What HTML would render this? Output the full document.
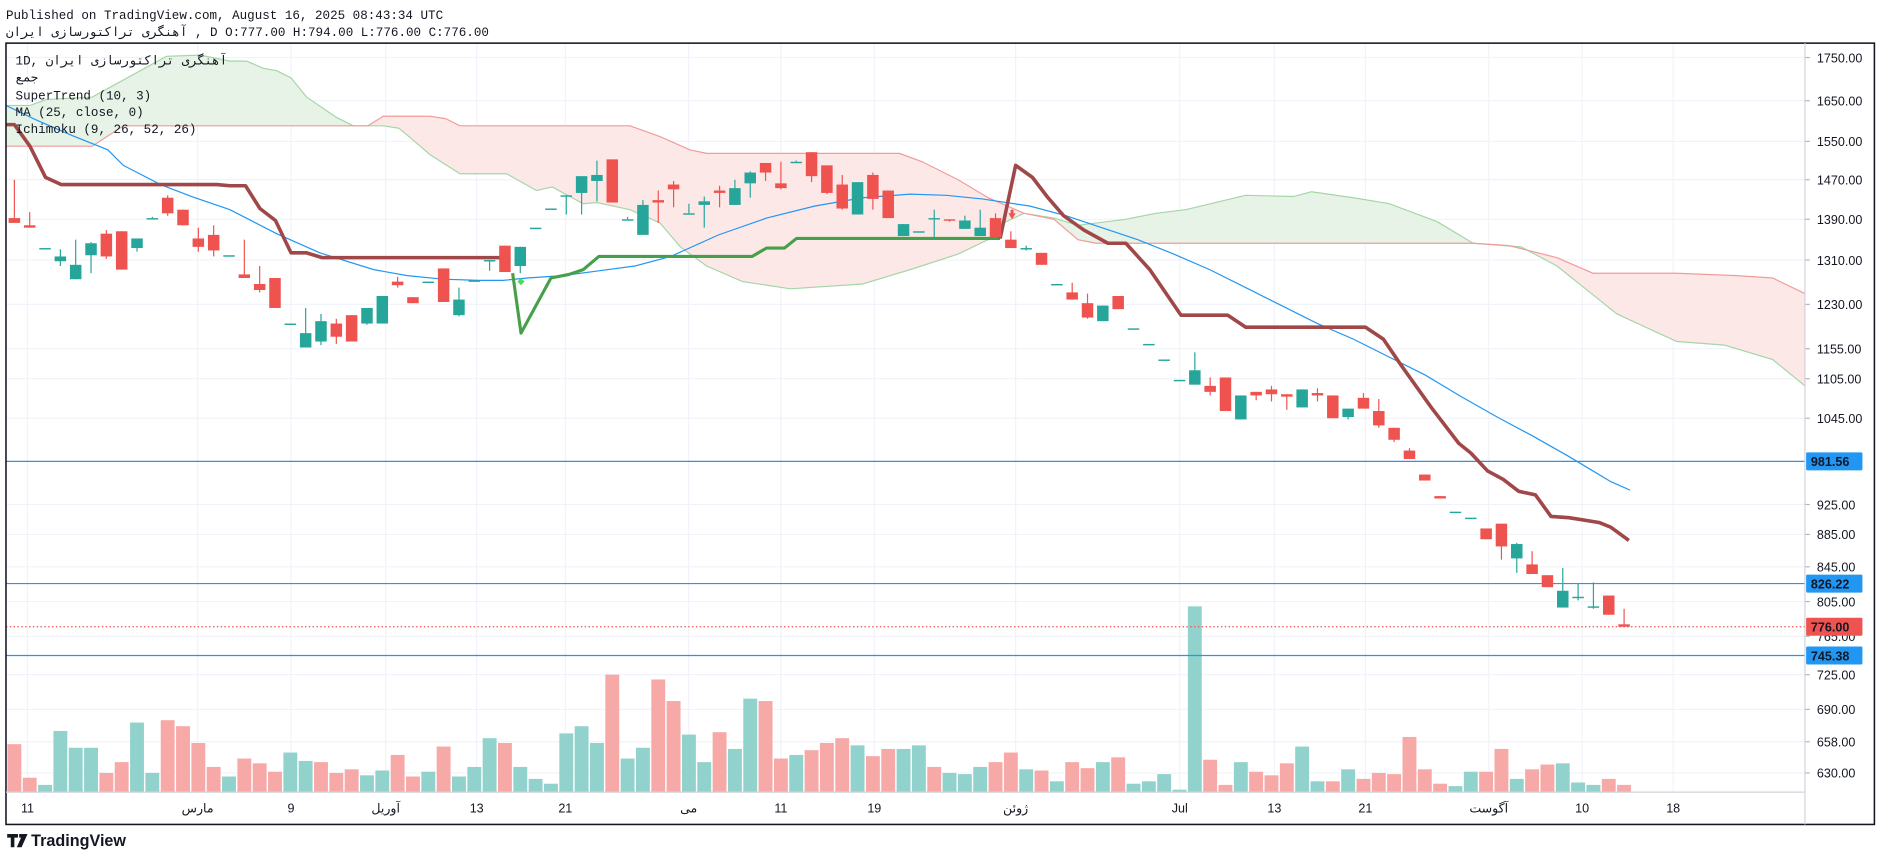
<!DOCTYPE html>
<html><head><meta charset="utf-8"><style>
html,body{margin:0;padding:0;background:#fff;}
svg{display:block;}
.m{font-family:"Liberation Mono","DejaVu Sans Mono","DejaVu Sans",monospace;fill:#131722;}
.s{font-family:"Liberation Sans","DejaVu Sans",sans-serif;fill:#131722;}
</style></head><body>
<svg id="c" width="1878" height="858" viewBox="0 0 1568 716" preserveAspectRatio="none" xmlns="http://www.w3.org/2000/svg">
<rect width="1568" height="716" fill="#fff"/>
<text class="m" x="5" y="16" font-size="10.5">Published on TradingView.com, August 16, 2025 08:43:34 UTC</text>
<text class="m" x="5" y="30" font-size="10.5">آهنگری تراکتورسازی ایران , D O:777.00 H:794.00 L:776.00 C:776.00</text>
<g id="grid"></g>
<g id="cloud"></g>
<g id="vol"></g>
<g id="lines"></g>
<g id="cand"></g>
<g id="over"></g>
<rect x="5" y="36" width="1560" height="652" fill="none" stroke="#131722" stroke-width="1.3"/>
<line x1="1507" y1="36" x2="1507" y2="688" stroke="#d1d4dc" stroke-width="1"/>
<line x1="5" y1="661" x2="1507" y2="661" stroke="#d1d4dc" stroke-width="1"/>
<g class="m" font-size="10.5">
<text x="13" y="54">1D, آهنگری تراکتورسازی ایران</text>
<text x="13" y="68">جمع</text>
<text x="13" y="83">SuperTrend (10, 3)</text>
<text x="13" y="97">MA (25, close, 0)</text>
<text x="13" y="111">Ichimoku (9, 26, 52, 26)</text>
</g>
<g fill="#131722"><rect x="6" y="696" width="9" height="3"/><rect x="9" y="696" width="3" height="11"/><rect x="16" y="696" width="3" height="3"/><polygon points="19,696 23,696 18,707 14,707"/></g>
<text class="s" x="26" y="706" font-size="13.5" font-weight="bold">TradingView</text>
</svg>
<script>
const NS="http://www.w3.org/2000/svg";
function el(p,t,a,txt){const e=document.createElementNS(NS,t);for(const k in a)e.setAttribute(k,a[k]);if(txt!==undefined)e.textContent=txt;document.getElementById(p).appendChild(e);return e;}
const pts=a=>a.map(p=>p.join(',')).join(' ');
// grid
const py=[[48,"1750.00"],[84,"1650.00"],[118,"1550.00"],[150,"1470.00"],[183,"1390.00"],[217,"1310.00"],[254,"1230.00"],[291,"1155.00"],[316,"1105.00"],[349,"1045.00"],[421,"925.00"],[446,"885.00"],[473,"845.00"],[502,"805.00"],[531,"765.00"],[563,"725.00"],[592,"690.00"],[619,"658.00"],[645,"630.00"]];
py.forEach(([y,t])=>{el("grid","line",{x1:5,x2:1507,y1:y,y2:y,stroke:"#f0f3fa","stroke-width":1});
el("grid","line",{x1:1507,x2:1511,y1:y,y2:y,stroke:"#b2b5be","stroke-width":1});
el("over","text",{x:1517,y:y+4,"font-size":10.5,class:"s"},t);});
const tx=[[23,"11"],[165,"مارس"],[243,"9"],[322,"آوریل"],[398,"13"],[472,"21"],[575,"می"],[652,"11"],[730,"19"],[848,"ژوئن"],[985,"Jul"],[1064,"13"],[1140,"21"],[1243,"آگوست"],[1321,"10"],[1397,"18"]];
tx.forEach(([x,t])=>{el("grid","line",{x1:x,x2:x,y1:36,y2:661,stroke:"#f0f3fa","stroke-width":1});
el("over","text",{x:x,y:678,"font-size":10.5,"text-anchor":"middle",class:"s"},t);});
// cloud
const G="#e7f3e6",R="#fde8e8",GL="#a5d6a7",RL="#f19c9a";
function seg(top,bot,fill){el("cloud","polygon",{points:pts(top.concat(bot.slice().reverse())),fill:fill});}
const A1=[[5,88],[25,88],[39,83],[77,81],[139,47],[167,46],[192,51],[206,51],[220,57],[231,59],[243,65],[256,81],[281,98],[295,105],[307,105]];
const B1=[[5,122],[77,122],[103,105],[307,105]];
const B2=[[307,105],[320,97],[359,97],[372,99],[384,105],[526,105],[551,114],[576,125],[590,128],[751,128],[770,135],[800,150],[825,165],[855,178]];
const A2=[[307,105],[320,105],[333,107],[345,117],[359,129],[384,145],[423,145],[448,159],[461,156],[487,170],[498,169],[526,175],[551,186],[568,206],[590,222],[620,235],[660,241],[720,237],[760,225],[800,212],[825,200],[840,185],[855,178]];
const A3=[[855,178],[880,182],[900,188],[940,183],[965,178],[990,175],[1040,163],[1080,164],[1095,160],[1130,165],[1160,170],[1200,185],[1230,203]];
const B3=[[855,178],[880,183],[900,200],[915,203],[1230,203]];
const B4=[[1230,203],[1260,205],[1300,215],[1330,228],[1400,228],[1450,230],[1480,232],[1507,245]];
const A4=[[1230,203],[1270,206],[1300,222],[1330,246],[1350,262],[1400,285],[1440,288],[1480,300],[1507,322]];
seg(A1,B1,G);seg(B2,A2,R);seg(A3,B3,G);seg(B4,A4,R);
[A1,A2,A3,A4].forEach(a=>el("cloud","polyline",{points:pts(a),fill:"none",stroke:GL,"stroke-width":1}));
[B1,B2,B3,B4].forEach(a=>el("cloud","polyline",{points:pts(a),fill:"none",stroke:RL,"stroke-width":1}));
// volume
const V=[["r",621],["r",649],["g",655],["g",610],["g",624],["g",624],["r",645],["r",636],["g",603],["g",645],["r",601],["r",606],["r",620],["r",640],["g",648],["r",633],["r",637],["r",644],["g",628],["g",635],["r",636],["r",645],["r",642],["g",647],["g",643],["r",630],["r",648],["g",644],["r",623],["g",648],["g",640],["g",616],["r",620],["g",640],["g",650],["g",654],["g",612],["g",606],["g",620],["r",563],["g",633],["g",624],["r",567],["r",585],["g",613],
["g",636],["r",611],["g",625],["g",583],["r",585],["r",633],["g",630],["r",626],["r",620],["r",616],["g",622],["r",631],["r",625],["g",625],["g",622],["r",640],["g",645],["g",646],["g",640],["r",636],["r",628],["g",642],["r",643],["g",652],["r",636],["r",641],["g",636],["r",632],["g",654],["g",652],["g",646],["g",659],["g",506],["r",634],["r",655],["g",636],["r",644],["r",647],["r",637],["g",623],["g",652],["r",652],["g",642],["r",650],["r",645],["r",646],["r",615],["r",642],["r",654],["g",656],["g",644],["r",644],["r",625],["g",650],["r",642],["r",638],["g",637],["g",653],["g",655],["r",650],["r",655]];
const X=i=>12+i*12.8;
V.forEach(([c,t],i)=>{let x=X(i)-5.8,w=11.6;if(x<5.7){w-=5.7-x;x=5.7;}
el("vol","rect",{x:x,y:t,width:w,height:661-t,fill:c=="g"?"#92d2cc":"#f7a9a7"});});
// horizontal lines
[[385,"981.56"],[487,"826.22"],[547,"745.38"]].forEach(([y,t])=>{el("lines","line",{x1:5,x2:1507,y1:y,y2:y,stroke:"#2196f3","stroke-width":1});
el("over","rect",{x:1508,y:y-7.5,width:47,height:15,fill:"#2196f3",rx:1});
el("over","text",{x:1512,y:y+4,"font-size":10.5,fill:"#fff",class:"s","font-weight":"bold"},t);});
el("lines","line",{x1:5,x2:1507,y1:523,y2:523,stroke:"#ef5350","stroke-width":1,"stroke-dasharray":"1.2,2"});
el("over","rect",{x:1508,y:515.5,width:47,height:15,fill:"#ef5350",rx:1});
el("over","text",{x:1512,y:527,"font-size":10.5,fill:"#fff",class:"s","font-weight":"bold"},"776.00");
// MA
const MA=[[5,88],[30,100],[60,113],[90,125],[103,138],[134,154],[160,164],[192,175],[231,195],[267,211],[312,225],[340,230],[370,233],[400,234],[420,234],[440,232],[470,230],[500,226],[530,222],[560,214],[600,196],[640,182],[680,172],[720,165],[760,162],[790,163],[820,166],[860,172],[890,180],[920,190],[950,200],[980,212],[1010,225],[1040,240],[1070,255],[1100,270],[1130,283],[1160,298],[1190,313],[1220,331],[1250,348],[1280,364],[1310,381],[1330,393],[1345,402],[1361,409]];
el("lines","polyline",{points:pts(MA),fill:"none",stroke:"#2196f3","stroke-width":1});
// supertrend
const ST1=[[5,104],[12,104],[25,122],[38,148],[51,154],[181,154],[192,155],[205,155],[217,174],[230,184],[243,211],[256,211],[269,215],[422,215]];
const STG=[[428,228],[435,278],[460,232],[475,229],[487,225],[500,214],[628,214],[640,207],[655,207],[665,199],[835,199]];
const ST2=[[835,199],[848,138],[862,148],[875,165],[888,180],[905,192],[925,203],[940,203],[960,225],[986,263],[1025,263],[1040,273],[1140,273],[1155,283],[1170,305],[1195,340],[1218,370],[1228,378],[1242,393],[1255,400],[1268,410],[1282,413],[1295,431],[1310,432],[1335,436],[1345,440],[1360,451]];
el("lines","polyline",{points:pts(ST1),fill:"none",stroke:"#a04848","stroke-width":3,"stroke-linejoin":"round"});
el("lines","polyline",{points:pts(STG),fill:"none",stroke:"#45a049","stroke-width":2.6,"stroke-linejoin":"round"});
el("lines","polyline",{points:pts(ST2),fill:"none",stroke:"#a04848","stroke-width":3,"stroke-linejoin":"round"});
// candles
const C=[["r",182,186,150,186],["r",188,190,177,190],["g",207,207,207,207],["g",214,218,208,222],["g",221,233,200,233],["g",203,213,202,228],["r",195,214,192,216],["r",193,225,193,225],["g",199,207,199,210],["g",182,183,181,183],
["r",165,178,163,180],["r",175,188,175,188],["r",199,206,190,210],["r",196,209,188,214],["g",213,213,213,213],["r",229,232,200,232],["r",237,242,222,244],["r",232,257,232,257],["g",270,271,270,271],["g",278,290,257,290],
["g",268,285,262,288],["r",270,281,266,287],["r",263,285,263,285],["g",257,270,257,271],["g",247,270,247,270],["r",235,238,231,240],["r",248,253,248,253],["g",235,235,235,236],["r",224,252,224,252],["g",250,263,240,264],
["g",234,235,234,235],["g",217,218,217,226],["r",205,227,205,227],["g",206,222,206,228],["g",190,190,190,190],["g",174,174,174,174],["g",163,163,163,179],["g",147,161,147,179],["g",146,151,134,168],["r",133,169,133,169],
["g",183,183,181,183],["g",171,196,167,196],["r",167,169,159,186],["r",154,158,151,173],["g",178,178,170,178],["g",168,171,164,190],["r",159,161,155,173],["g",157,171,150,171],["g",144,153,143,165],["r",136,144,136,151],
["r",153,157,135,158],["g",135,135,134,136],["r",127,147,127,152],["r",138,161,138,162],["r",154,174,146,175],["g",152,179,152,179],["r",146,166,144,175],["r",159,182,159,182],["g",187,197,187,197],["g",193,193,193,193],
["g",182,183,175,200],["r",183,184,183,185],["g",184,191,180,191],["g",190,197,175,197],["r",182,198,178,198],["r",200,207,193,207],["g",207,207,205,209],["r",211,221,211,221],["g",237,237,237,237],["r",244,250,236,250],
["r",253,265,245,266],["g",255,268,255,268],["r",247,258,247,258],["g",274,274,274,274],["g",287,287,287,287],["g",300,300,300,300],["g",317,317,317,317],["g",309,321,294,321],["r",322,327,315,330],["r",315,343,315,343],
["g",330,350,330,350],["r",327,330,327,334],["r",325,329,322,335],["r",329,331,329,342],["g",325,340,325,340],["r",328,330,324,335],["r",330,349,330,349],["g",341,348,341,350],["r",332,341,328,341],["r",343,355,333,357],
["r",357,367,357,369],["r",376,383,374,383],["r",396,401,396,401],["r",414,416,414,416],["g",427,427,427,427],["g",432,432,432,432],["r",441,450,441,450],["r",437,456,437,467],["g",454,466,453,478],["r",471,479,460,479],
["r",480,490,480,490],["g",493,507,474,507],["g",498,498,487,501],["g",506,506,486,508],["r",497,513,497,513],["r",521,523,508,523]];
C.forEach(([c,bt,bb,wt,wb],i)=>{const col=c=="g"?"#26a69a":"#ef5350",x=X(i);
if(wb>wt)el("cand","line",{x1:x,x2:x,y1:wt,y2:wb,stroke:col,"stroke-width":1});
const h=Math.max(bb-bt,1.2);el("cand","rect",{x:x-4.8,y:bt,width:9.6,height:h,fill:col});});
// markers
el("cand","polygon",{points:"432,235 435,232 438,235 435,238",fill:"#4cdb5a"});
el("cand","polygon",{points:"842,178 848,178 845,183",fill:"#ef5350"});
el("cand","rect",{x:843.8,y:175,width:2.4,height:4,fill:"#ef5350"});
</script>
</body></html>
